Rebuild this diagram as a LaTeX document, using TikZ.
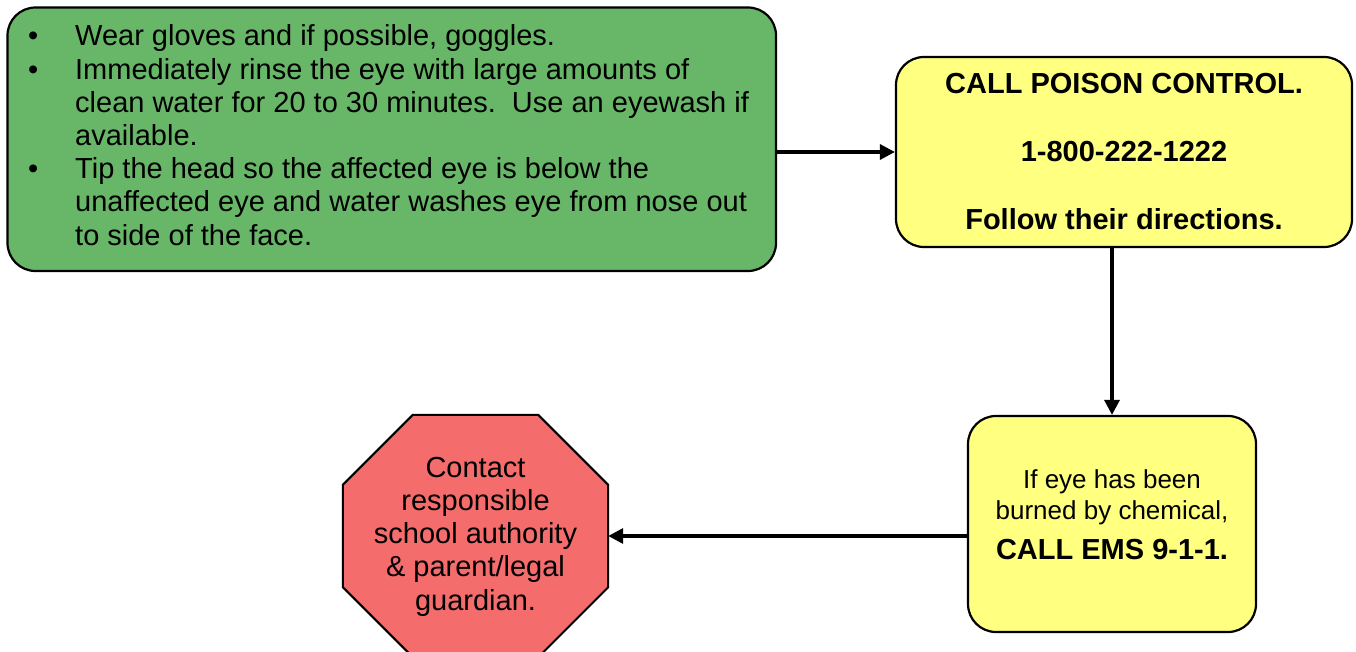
\documentclass[tikz,border=0pt]{standalone}
\usepackage{fontspec}
\setmainfont{Liberation Sans}
\usetikzlibrary{arrows.meta,calc}
\definecolor{boxgreen}{RGB}{104,182,104}
\definecolor{boxyellow}{RGB}{255,255,128}
\definecolor{boxred}{RGB}{244,108,108}
\newcommand{\cenln}[1]{\hbox to 0pt{\hss#1\hss}}
\begin{document}
\begin{tikzpicture}[x=1pt,y=-1pt,
  box/.style={draw=black,line width=2.2pt,rounded corners=28pt,inner sep=0pt},
  arr/.style={line width=3.2pt,-{Triangle[length=15pt,width=15pt]}},
  txt/.style={inner sep=0pt,font=\fontsize{29}{33.2}\selectfont}]
\useasboundingbox (0,0) rectangle (1356,652);
\clip (0,0) rectangle (1356,652);
% boxes
\node[box,fill=boxgreen,minimum width=768.5pt,minimum height=263.5pt] (green) at (391.75,139.25) {};
\node[box,fill=boxyellow,minimum width=456pt,minimum height=190pt] (call) at (1124,152) {};
\node[box,fill=boxyellow,minimum width=288pt,minimum height=216pt] (ems) at (1112,524) {};
\node[inner sep=0pt,minimum width=265pt,minimum height=242pt] (stop) at (475.5,536) {};
\draw[fill=boxred,line width=2pt,line join=miter]
  ($(stop.north west)+(70,0)$) -- ($(stop.north east)+(-70,0)$)
  -- ($(stop.north east)+(0,70)$) -- ($(stop.south east)+(0,-70)$)
  -- ($(stop.south east)+(-70,0)$) -- ($(stop.south west)+(70,0)$)
  -- ($(stop.south west)+(0,-70)$) -- ($(stop.north west)+(0,70)$) -- cycle;
% arrows
\draw[arr] (green.east |- call.west) -- (call.west);
\draw[arr] (call.south -| ems.north) -- (ems.north);
\draw[arr] (ems.west |- stop.east) -- (stop.east);
% texts
\node[txt,anchor=base west] (greentext) at (75,46) {\vtop{%
  \hbox{\llap{•\hspace{37pt}}Wear gloves and if possible, goggles.}
  \hbox{\llap{•\hspace{37pt}}Immediately rinse the eye with large amounts of}
  \hbox{clean water for 20 to 30 minutes.\ \ Use an eyewash if}
  \hbox{available.}
  \hbox{\llap{•\hspace{37pt}}Tip the head so the affected eye is below the}
  \hbox{unaffected eye and water washes eye from nose out}
  \hbox{to side of the face.}}};
\node[txt,anchor=base,font=\bfseries\fontsize{29}{34}\selectfont] (calltext) at (1124,94) {\vtop{%
  \cenln{CALL POISON CONTROL.}
  \baselineskip=68pt
  \cenln{1-800-222-1222}
  \cenln{Follow their directions.}}};
\node[txt,anchor=base] (emstext) at (1112,488) {\vtop{%
  \baselineskip=31pt
  \cenln{\fontsize{26}{31}\selectfont If eye has been}
  \cenln{\fontsize{26}{31}\selectfont burned by chemical,}
  \baselineskip=40pt
  \cenln{\bfseries CALL EMS 9-1-1.}}};
\node[txt,anchor=base] (stoptext) at (475.5,477) {\vtop{%
  \baselineskip=33.3pt
  \cenln{Contact}
  \cenln{responsible}
  \cenln{school authority}
  \cenln{\& parent/legal}
  \cenln{guardian.}}};
\end{tikzpicture}
\end{document}
